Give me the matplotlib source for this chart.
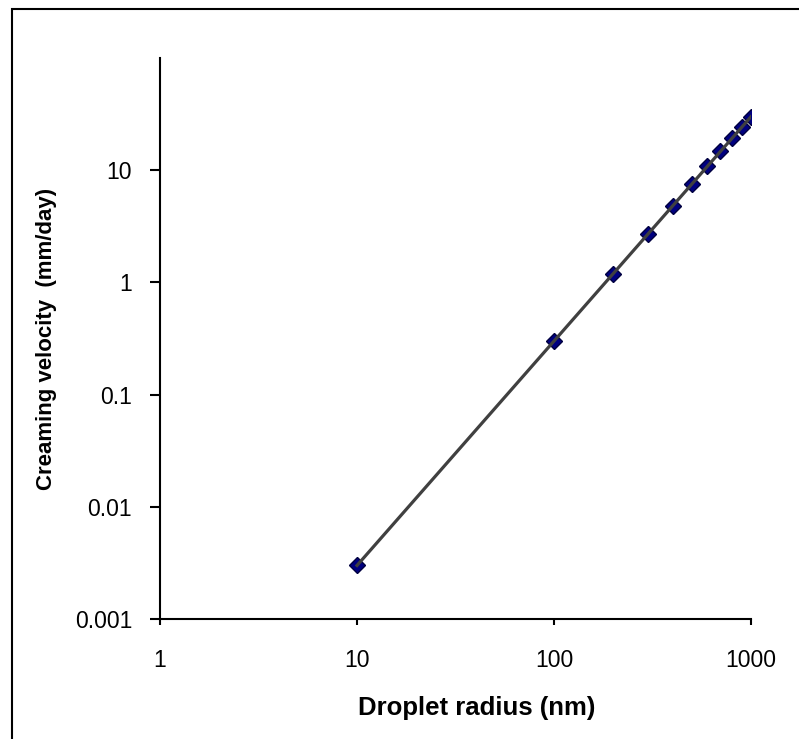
import numpy as np
import matplotlib
matplotlib.use("Agg")
import matplotlib.pyplot as plt
from matplotlib.patches import Rectangle

plt.rcParams['font.family'] = ['Liberation Sans', 'DejaVu Sans']

# droplet radius (nm) and creaming velocity (mm/day)
radius = [10, 100, 200, 300, 400, 500, 600, 700, 800, 900, 1000]
velocity = [0.003, 0.3, 1.2, 2.7, 4.8, 7.5, 10.8, 14.7, 19.2, 24.3, 30.0]
x_ticks = [1, 10, 100, 1000]
x_labels = ["1", "10", "100", "1000"]
y_ticks = [0.001, 0.01, 0.1, 1, 10]
y_labels = ["0.001", "0.01", "0.1", "1", "10"]

fig = plt.figure(figsize=(7.99, 7.39), dpi=100)
## outer frame (runs off the right and bottom edges)
top = 1 - 9/739
fig.patches.append(Rectangle((12/799, -0.5), 2.0, top + 0.5,
                             transform=fig.transFigure, fill=False,
                             edgecolor="k", linewidth=1.5))

ax = fig.add_axes([160/799, 1 - 619/739, (751 - 160)/799, (619 - 58)/739])
ax.set_xscale("log")
ax.set_yscale("log")

ax.plot(radius, velocity, linestyle="None", marker="D", markersize=8.5,
        markerfacecolor="#000080", markeredgecolor="#000040",
        markeredgewidth=1, zorder=2)
ax.plot(radius, velocity, color="#404040", linewidth=2.3, zorder=3)

ax.set_xlim(1, 1000)
ax.set_ylim(0.001, 100)
ax.set_xticks(x_ticks)
ax.set_xticklabels(x_labels)
ax.set_yticks(y_ticks)
ax.set_yticklabels(y_labels)
ax.minorticks_off()

for s in ["top", "right"]:
    ax.spines[s].set_visible(False)
for s in ["left", "bottom"]:
    ax.spines[s].set_linewidth(1.5)
ax.tick_params(axis="y", direction="out", length=7, width=1.5, labelsize=16.5, pad=13)
ax.tick_params(axis="x", direction="out", length=4.5, width=1.5, labelsize=16.5, pad=17)

ax.set_xlabel("Droplet radius (nm)", fontsize=18.5, fontweight="bold")
ax.xaxis.set_label_coords((477 - 160) / 591, -(715 - 619) / 561, transform=None)
ax.xaxis.label.set_transform(ax.transAxes)
ax.xaxis.label.set_verticalalignment("baseline")
ax.set_ylabel("Creaming velocity  (mm/day)", fontsize=16, fontweight="bold", labelpad=13)

fig.savefig("out.png", dpi=100)
